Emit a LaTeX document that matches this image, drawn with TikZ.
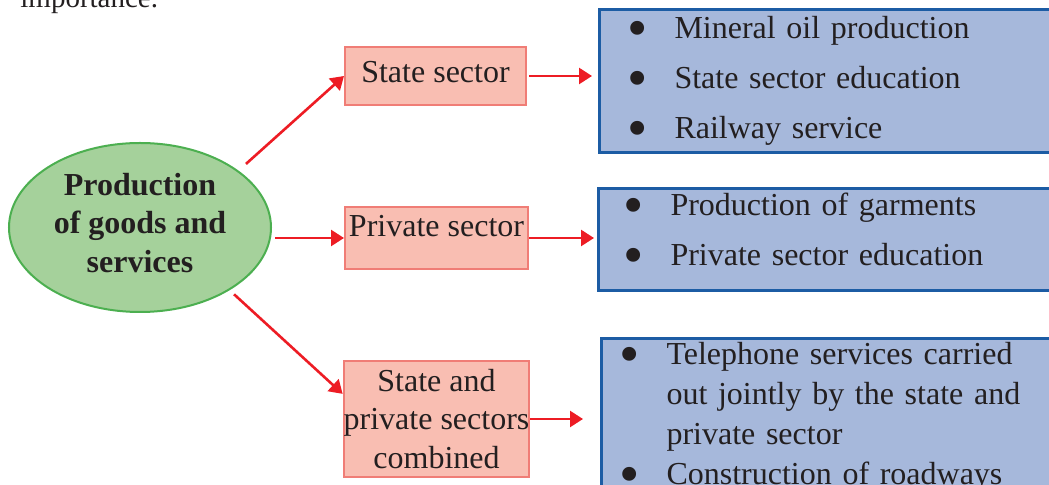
\documentclass[tikz,border=0pt]{standalone}
\usepackage{fontspec}
\setmainfont{Liberation Serif}
\usetikzlibrary{shapes.geometric,arrows.meta}

\definecolor{ovalFill}{RGB}{165,209,155}
\definecolor{ovalLine}{RGB}{76,175,80}
\definecolor{secFill}{RGB}{249,190,178}
\definecolor{secLine}{RGB}{240,125,118}
\definecolor{listFill}{RGB}{166,184,219}
\definecolor{listLine}{RGB}{28,92,164}
\definecolor{arrRed}{RGB}{237,28,36}
\definecolor{inkC}{RGB}{35,31,32}

\newcommand{\bul}[1]{\makebox[23.5pt][l]{\raisebox{-4.5pt}{\fontsize{29}{29}\selectfont\textbullet}}#1}

\tikzstyle{ovalS}=[ellipse,draw=ovalLine,fill=ovalFill,line width=1pt,minimum width=131pt,minimum height=84.5pt,inner sep=0pt,align=center,font=\fontsize{16}{19.25}\selectfont\bfseries]
\tikzstyle{secS}=[rectangle,draw=secLine,fill=secFill,line width=1pt,inner sep=0pt,align=center,font=\fontsize{16}{19.25}\selectfont]
\tikzstyle{listS}=[rectangle,draw=listLine,fill=listFill,line width=1.5pt,inner ysep=2pt,text width=220pt,align=left,font=\fontsize{16}{25}\selectfont]
\tikzstyle{arrS}=[line width=1.3pt,draw=arrRed,-{Triangle[length=6.5pt,width=8pt]}]

\begin{document}
\begin{tikzpicture}[x=0.5pt,y=-0.5pt,text=inkC]
    \useasboundingbox (0,0) rectangle (1049,485);
    \clip (0,0) rectangle (1049,485);
    % text cut off at the top
    \draw (20,8) node[anchor=base west,inner sep=0pt,font=\fontsize{14.5}{17}\selectfont] (cutText) {importance.};

    \draw (140,227.5) node[ovalS] (prod) {Production\\of goods and\\services\rule[-5pt]{0pt}{5pt}};

    \draw (435.5,76) node[secS,minimum width=90.5pt,minimum height=29pt,text depth=4pt] (state) {State sector};
    \draw (436.5,238) node[secS,minimum width=91.5pt,minimum height=31pt,text depth=12.5pt] (private) {Private sector};
    \draw (436.5,419) node[secS,minimum width=91.5pt,minimum height=58pt] (mixed) {State and\\private sectors\\combined};

    \draw (598,81.5) node[listS,anchor=west,inner xsep=14pt,minimum height=71.5pt] (stateList)
        {\bul{Mineral oil production}\\\bul{State sector education}\\\bul{Railway service}};
    \draw (597,187) node[listS,anchor=north west,inner xsep=12.5pt] (privList)
        {\bul{Production of garments}\\\bul{Private sector education}\par\vspace*{6pt}};
    \draw (600,337) node[listS,anchor=north west,inner xsep=9pt,font=\fontsize{16}{20}\selectfont] (mixList)
        {\bul{Telephone services carried}\\\hspace*{23.5pt}out jointly by the state and\\\hspace*{23.5pt}private sector\\\bul{Construction of roadways}};

    \path
        (prod.30) edge[arrS,shorten <=5pt] (state.west)
        (prod.east |- private.west) edge[arrS,shorten <=1.5pt] (private.west)
        (prod.-35) edge[arrS,shorten <=3pt] (mixed.165)
        (state.east) edge[arrS,shorten <=1pt,shorten >=3pt] (state.east -| stateList.west)
        (private.east) edge[arrS,shorten >=1.5pt] (private.east -| privList.west)
        (mixed.east) edge[arrS,shorten >=8.5pt] (mixed.east -| mixList.west)
    ;
\end{tikzpicture}
\end{document}
